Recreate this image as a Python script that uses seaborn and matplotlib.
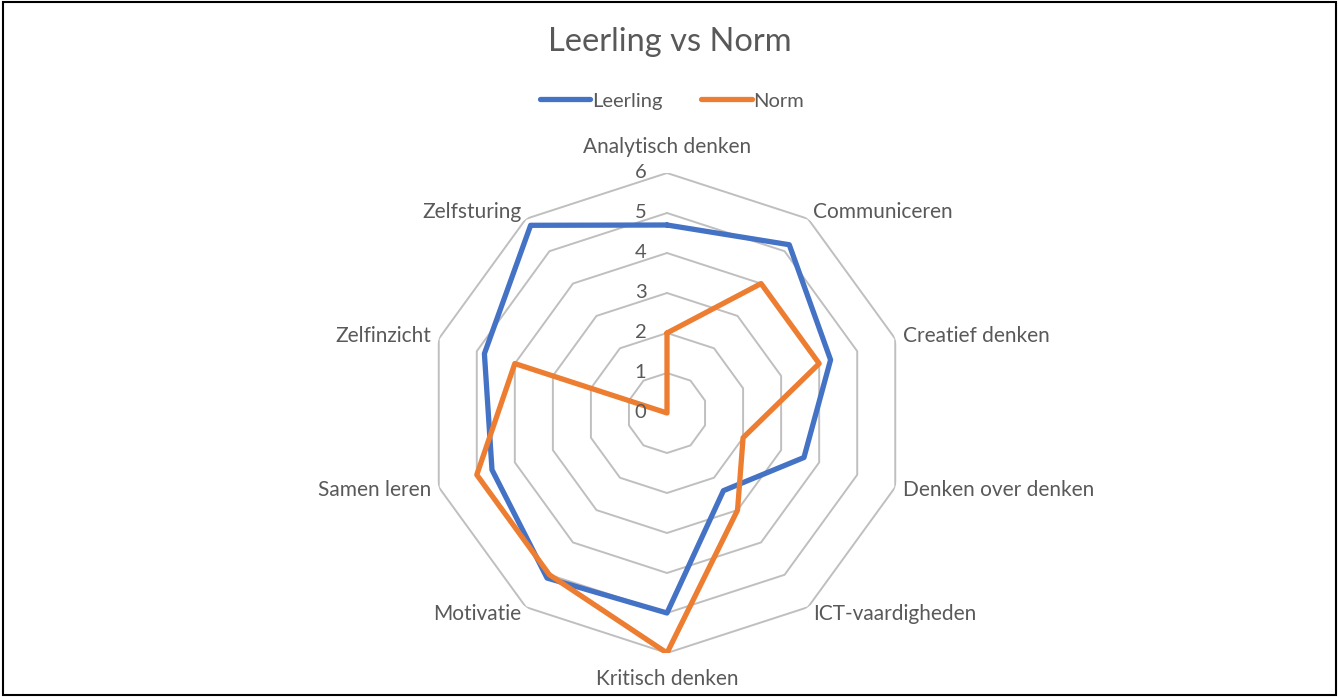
import numpy as np
import pandas as pd
import matplotlib
matplotlib.use("Agg")
import matplotlib.pyplot as plt
from matplotlib.patches import Rectangle
import seaborn as sns

# values
categories = [
    "Analytisch denken", "Communiceren", "Creatief denken", "Denken over denken",
    "ICT-vaardigheden", "Kritisch denken", "Motivatie", "Samen leren",
    "Zelfinzicht", "Zelfsturing",
]
leerling = [4.7, 5.2, 4.3, 3.6, 2.4, 5.0, 5.1, 4.6, 4.8, 5.8]
norm = [2, 4, 4, 2, 3, 6, 5, 5, 4, 0]
series_names = ["Leerling", "Norm"]
ring_values = [1, 2, 3, 4, 5, 6]

sns.set_theme(style="white")
plt.rcParams["font.family"] = ["Lato", "DejaVu Sans"]

TEXT = "#595959"
GRID = "#BFBFBF"
palette = {"Leerling": "#4472C4", "Norm": "#ED7D31"}

n = len(categories)
angles = np.arange(n) * 2 * np.pi / n
closed = np.append(angles, angles[0])

rows = []
for name, vals in zip(series_names, [leerling, norm]):
    vals_closed = list(vals) + [vals[0]]
    for i, (a, v) in enumerate(zip(closed, vals_closed)):
        rows.append({"series": name, "order": i, "angle": a, "value": v})
df = pd.DataFrame(rows)

fig = plt.figure(figsize=(13.39, 6.97), dpi=100)
ax = fig.add_axes([427 / 1339, 44 / 697, 480 / 1339, 480 / 697], projection="polar")
ax.set_theta_offset(np.pi / 2)
ax.set_theta_direction(-1)

# polygon gridlines like the spreadsheet radar chart
for r in ring_values:
    ax.plot(closed, [r] * len(closed), color=GRID, lw=1.4, zorder=1)

sns.lineplot(data=df, x="angle", y="value", hue="series", sort=False,
             palette=palette, linewidth=3.8, estimator=None, ax=ax, zorder=3)
for line in ax.lines:
    line.set_solid_joinstyle("round")

ax.set_ylim(0, 6)
ax.grid(False)
ax.spines["polar"].set_visible(False)
ax.set_xticks([])
ax.set_yticks([])
ax.set_xlabel("")
ax.set_ylabel("")

# radial labels
for r in [0] + ring_values:
    ax.annotate(str(r), xy=(0, r), xytext=(-19, 0), textcoords="offset points",
                ha="center", va="center", fontsize=14.5, color=TEXT)

# category labels
for a, lab in zip(angles, categories):
    s = np.sin(a)
    if abs(s) < 1e-6:
        ha = "center"
        rr = 6.65
    elif s > 0:
        ha = "left"
        rr = 6.2
    else:
        ha = "right"
        rr = 6.2
    ax.text(a, rr, lab, ha=ha, va="center", fontsize=15, color=TEXT)

handles, labels = ax.get_legend_handles_labels()
ax.get_legend().remove()
fig.legend(handles, labels, loc="center", bbox_to_anchor=(0.502, 1 - 101 / 697),
           ncol=2, frameon=False, handlelength=2.5, handletextpad=0.1,
           columnspacing=1.9, fontsize=14.5, labelcolor=TEXT)

fig.text(0.5, 1 - 42 / 697, "Leerling vs Norm", ha="center", va="center",
         fontsize=23.5, color=TEXT)

fig.patches.append(Rectangle((0.002, 0.003), 0.996, 0.994, transform=fig.transFigure,
                             fill=False, edgecolor="black", lw=1.5))

fig.savefig("out.png", dpi=100)
